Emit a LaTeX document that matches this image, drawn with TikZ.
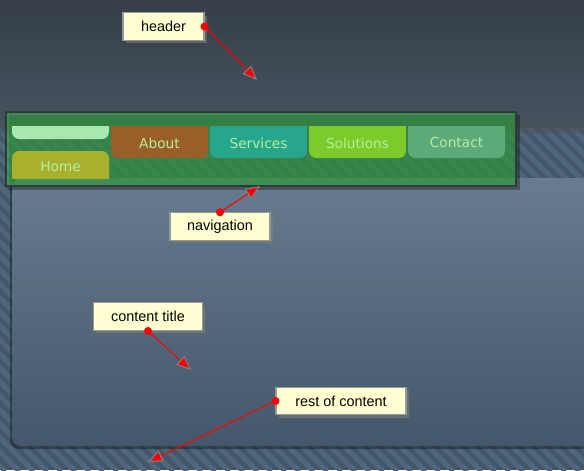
\documentclass[tikz,border=0pt]{standalone}
\usepackage{fontspec}
\setmainfont{Liberation Sans}
\newfontfamily\tabfont{DejaVu Sans}
\usepackage{tikz}
\usetikzlibrary{arrows.meta,shadows}
\usepackage{xcolor}
\definecolor{hdtop}{HTML}{353E49}
\definecolor{hdbot}{HTML}{46545F}
\definecolor{stripedark}{HTML}{44576A}
\definecolor{stripelight}{HTML}{50667B}
\definecolor{pantop}{HTML}{677C8E}
\definecolor{panbot}{HTML}{45576A}
\definecolor{navgreen}{RGB}{58,196,72}
\definecolor{navedge}{HTML}{2C3A3A}
\definecolor{lighttab}{HTML}{A8E8B0}
\definecolor{hometab}{HTML}{A8B02E}
\definecolor{abouttab}{HTML}{9A5F27}
\definecolor{servtab}{HTML}{28A68C}
\definecolor{soltab}{HTML}{7CCB2A}
\definecolor{contab}{HTML}{5CAA7A}
\definecolor{tabtext}{HTML}{B4F0A0}
\definecolor{notefill}{HTML}{FFFFD2}

\begin{document}
\begin{tikzpicture}[x=0.02cm,y=-0.02cm,line cap=round,
  note/.style={draw=gray!80,fill=notefill,line width=0.6pt,inner sep=0pt,minimum height=0.55cm,
    font=\fontsize{8.2}{10}\selectfont,drop shadow={shadow xshift=1.6pt,shadow yshift=-1.6pt,opacity=0.55}},
  tablabel/.style={text=tabtext,inner sep=0pt,font=\tabfont\fontsize{7.8}{9}\selectfont},
  pointer/.style={red,line width=0.6pt,-{Triangle[length=2.9mm,width=2.4mm,fill=red,color=gray]}}]
\useasboundingbox (0,0) rectangle (584,470);
\clip (0,0) rectangle (584,470);
% striped page background
\fill[stripedark] (0,0) rectangle (584,470);
\foreach \s in {-480,-466,...,600}
  \draw[stripelight,line width=0.1cm] (\s,0) -- ++(470,470);
% header
\shade[top color=hdtop,bottom color=hdbot] (0,0) rectangle (584,127);
\shade[top color=black!70,bottom color=stripedark,opacity=0.5] (0,127) rectangle (584,133);
% content panel
\fill[black,opacity=0.35,rounded corners=5pt] (10,180) rectangle (610,449);
\shade[top color=pantop,bottom color=panbot,rounded corners=5pt] (12,178) rectangle (610,446);
% navigation bar
\fill[black,opacity=0.3] (9,115) rectangle (520,190);
\fill[navgreen,opacity=0.5] (6,112) rectangle (516,186);
\draw[navedge,line width=0.8pt] (6,112) rectangle (516,186);
\begin{scope}
\clip (0,126) rectangle (584,470);
\fill[lighttab,rounded corners=4pt] (12,110) rectangle (109,139);
\fill[abouttab,rounded corners=4pt] (111,110) rectangle (208,158);
\fill[servtab,rounded corners=4pt] (210,110) rectangle (307,158);
\fill[soltab,rounded corners=4pt] (309,110) rectangle (406,158);
\fill[contab,rounded corners=4pt] (408,110) rectangle (505,158);
\end{scope}
\begin{scope}
\clip (0,0) rectangle (584,178);
\fill[hometab,rounded corners=4pt] (12,151) rectangle (109,200);
\end{scope}
\node[tablabel] (home) at (60.5,167) {Home};
\node[tablabel] (about) at (159.5,143) {About};
\node[tablabel] (services) at (258.5,143) {Services};
\node[tablabel] (solutions) at (357.5,143) {Solutions};
\node[tablabel] (contact) at (456.5,143) {Contact};
% callouts
\node[note,minimum width=1.62cm] (hdnote) at (163.5,26.5) {header};
\node[note,minimum width=2cm] (navnote) at (220,226.5) {navigation};
\node[note,minimum width=2.18cm] (titlenote) at (148,316.7) {content title};
\node[note,minimum width=2.6cm] (restnote) at (341,401) {rest of content};
\coordinate (hdtip) at (257,80);
\coordinate (navtip) at (260,186);
\coordinate (titletip) at (191,370);
\coordinate (resttip) at (148,462);
\draw[pointer] (hdnote.east) -- (hdtip);
\draw[pointer] (navnote.north) -- (navtip);
\draw[pointer] (titlenote.south) -- (titletip);
\draw[pointer] (restnote.west) -- (resttip);
\fill[red] (hdnote.east) circle (2.3pt);
\fill[red] (navnote.north) circle (2.3pt);
\fill[red] (titlenote.south) circle (2.3pt);
\fill[red] (restnote.west) circle (2.3pt);
\end{tikzpicture}
\end{document}
